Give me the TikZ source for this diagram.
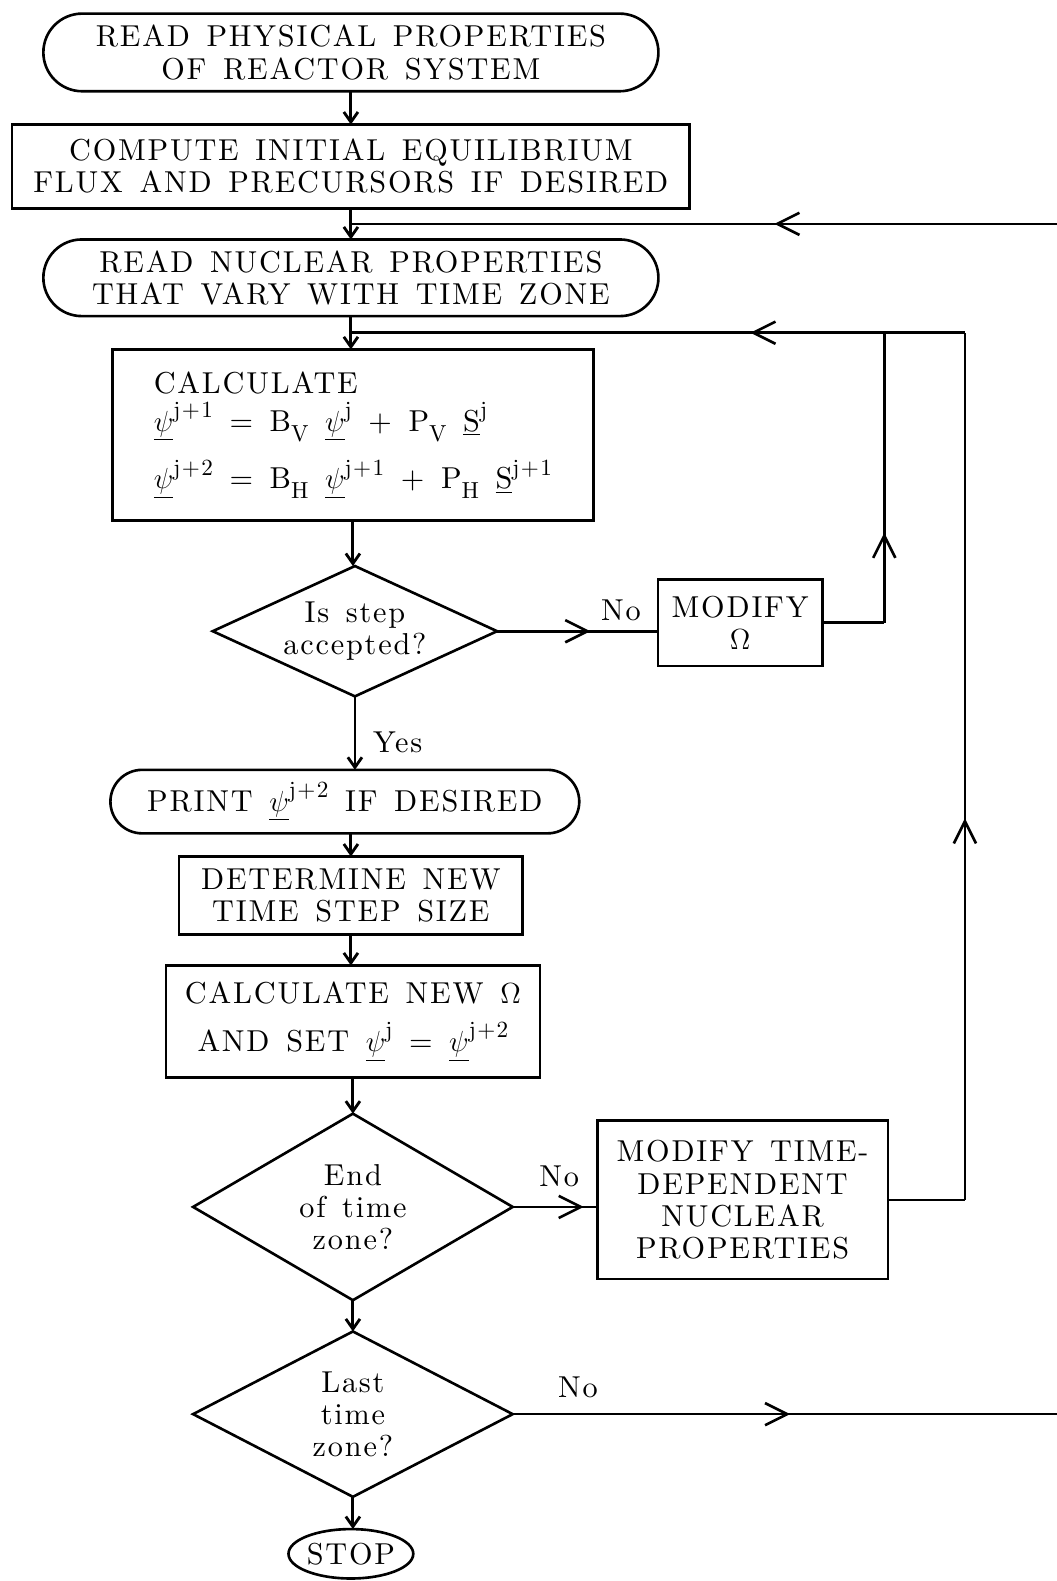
\documentclass[tikz,border=0pt]{standalone}
\usepackage{fontspec}
\setmainfont{lmroman10-regular.otf}[LetterSpace=6,WordSpace=1.4]
\usepackage{tikz}
\usetikzlibrary{positioning,arrows.meta,calc,shapes.misc,shapes.geometric,decorations.markings}
\newcommand{\sps}[1]{\raisebox{1.05ex}{\fontsize{11.5}{12}\selectfont #1}}
\newcommand{\sbs}[1]{\raisebox{-0.75ex}{\fontsize{11.5}{12}\selectfont #1}}
\newcommand{\upsi}{$\underline{\psi}$}

\begin{document}
\begin{tikzpicture}[x=0.5pt, y=-0.5pt, line width=1.3pt,
    every node/.style={font=\fontsize{15}{16}\selectfont, inner sep=0pt, outer sep=0pt},
    term/.style={draw, rounded rectangle, align=center, line width=1.3pt},
    procbox/.style={draw, rectangle, align=center, line width=1.3pt},
    decide/.style={draw, diamond, align=center, shape aspect=2, line width=1.3pt},
    flow/.style={-{Straight Barb[length=5pt,width=7pt]}, line width=1.4pt},
    midarrow/.style={postaction={decorate}, decoration={markings,
        mark=at position #1 with {\arrow{Straight Barb[length=11pt,width=11pt]}}}},
    lbl/.style={font=\fontsize{15}{16}\selectfont}
]
\useasboundingbox (0,0) rectangle (1048,1568);
% Main column
\node[term, minimum width=305pt, minimum height=38.5pt] (rp) at (348,52) {READ PHYSICAL PROPERTIES\\OF REACTOR SYSTEM};
\node[procbox, minimum width=336pt, minimum height=41.5pt] (cie) at (348,165) {COMPUTE INITIAL EQUILIBRIUM\\FLUX AND PRECURSORS IF DESIRED};
\node[term, minimum width=305pt, minimum height=38pt] (rnp) at (348,275.5) {READ NUCLEAR PROPERTIES\\THAT VARY WITH TIME ZONE};
\node[procbox, align=left, minimum width=238.5pt, minimum height=85pt] (calc) at (350,431.5) {CALCULATE\\[3pt]
    \upsi\sps{j+1} = B\sbs{V} \upsi\sps{j} + P\sbs{V} \underline{S}\sps{j}\\[8pt]
    \upsi\sps{j+2} = B\sbs{H} \upsi\sps{j+1} + P\sbs{H} \underline{S}\sps{j+1}};
\node[decide, minimum width=141pt, minimum height=64.5pt] (dec1) at (352,626) {Is step\\accepted?};
\node[term, minimum width=232.5pt, minimum height=31.5pt] (prt) at (342,795) {PRINT \upsi\sps{j+2} IF DESIRED};
\node[procbox, minimum width=170.5pt, minimum height=38.5pt] (dtss) at (348,888) {DETERMINE NEW\\TIME STEP SIZE};
\node[procbox, minimum width=185.5pt, minimum height=55.5pt] (cno) at (350,1013) {CALCULATE NEW $\Omega$\\[8pt]AND SET \upsi\sps{j} = \upsi\sps{j+2}};
\node[decide, minimum width=158.5pt, minimum height=92.5pt] (dec2) at (350,1197) {End\\of time\\zone?};
\node[decide, minimum width=158.5pt, minimum height=82pt] (dec3) at (350,1402.5) {Last\\time\\zone?};
\node[draw, ellipse, minimum width=59pt, minimum height=24.5pt] (stop) at (348,1541) {STOP};
% Side boxes
\node[procbox, minimum width=81.5pt, minimum height=43pt] (modO) at (734,617.5) {MODIFY\\$\Omega$};
\node[procbox, minimum width=144pt, minimum height=78.5pt] (mtdp) at (736.5,1190) {MODIFY TIME-\\DEPENDENT\\NUCLEAR\\PROPERTIES};

% Junctions and loop corners
\coordinate (jn1) at ($(cie.south)!0.5!(rnp.north)$);
\coordinate (jn2) at ($(rnp.south)!0.5!(calc.north)$);
\coordinate (edgeT) at (1048,222);
\coordinate (rtA) at (877,330);
\coordinate (rtB) at (957,330);
\coordinate (edgeB) at (dec3.east -| edgeT);

% Arrows
\draw[flow] (rp.south) -- (rp.south |- cie.north);
\draw[flow] (cie.south) -- (cie.south |- rnp.north);
\draw[flow] (rnp.south) -- (rnp.south |- calc.north);
\draw[flow] (calc.south) -- (calc.south |- dec1.north);
\draw[flow] (dec1.south) -- node[lbl, right=9pt, pos=0.62]{Yes} (dec1.south |- prt.north);
\draw[flow] (prt.south -| dtss.north) -- (dtss.north);
\draw[flow] (dtss.south) -- (dtss.south |- cno.north);
\draw[flow] (cno.south) -- (dec2.north);
\draw[flow] (dec2.south) -- (dec3.north);
\draw[flow] (dec3.south) -- (dec3.south |- stop.north);

% No branches
\draw[midarrow=0.58] (dec1.east) -- node[lbl, above=5pt, pos=0.77]{No} (dec1.east -| modO.west);
\draw[midarrow=0.84] (dec2.east) -- node[lbl, above=10pt, pos=0.55]{No} (dec2.east -| mtdp.west);
\draw[midarrow=0.51] (dec3.east) -- node[lbl, above=8pt, pos=0.12]{No} (edgeB);

% Loops back
\draw[midarrow=0.40] (edgeT) -- (jn1);
\draw (modO.east) -- (modO.east -| rtA);
\draw[midarrow=0.31] (modO.east -| rtA) -- (rtA);
\draw[midarrow=0.35] (rtB) -- (jn2);
\draw (mtdp.east) -- (mtdp.east -| rtB);
\draw[midarrow=0.44] (mtdp.east -| rtB) -- (rtB);
\end{tikzpicture}
\end{document}
